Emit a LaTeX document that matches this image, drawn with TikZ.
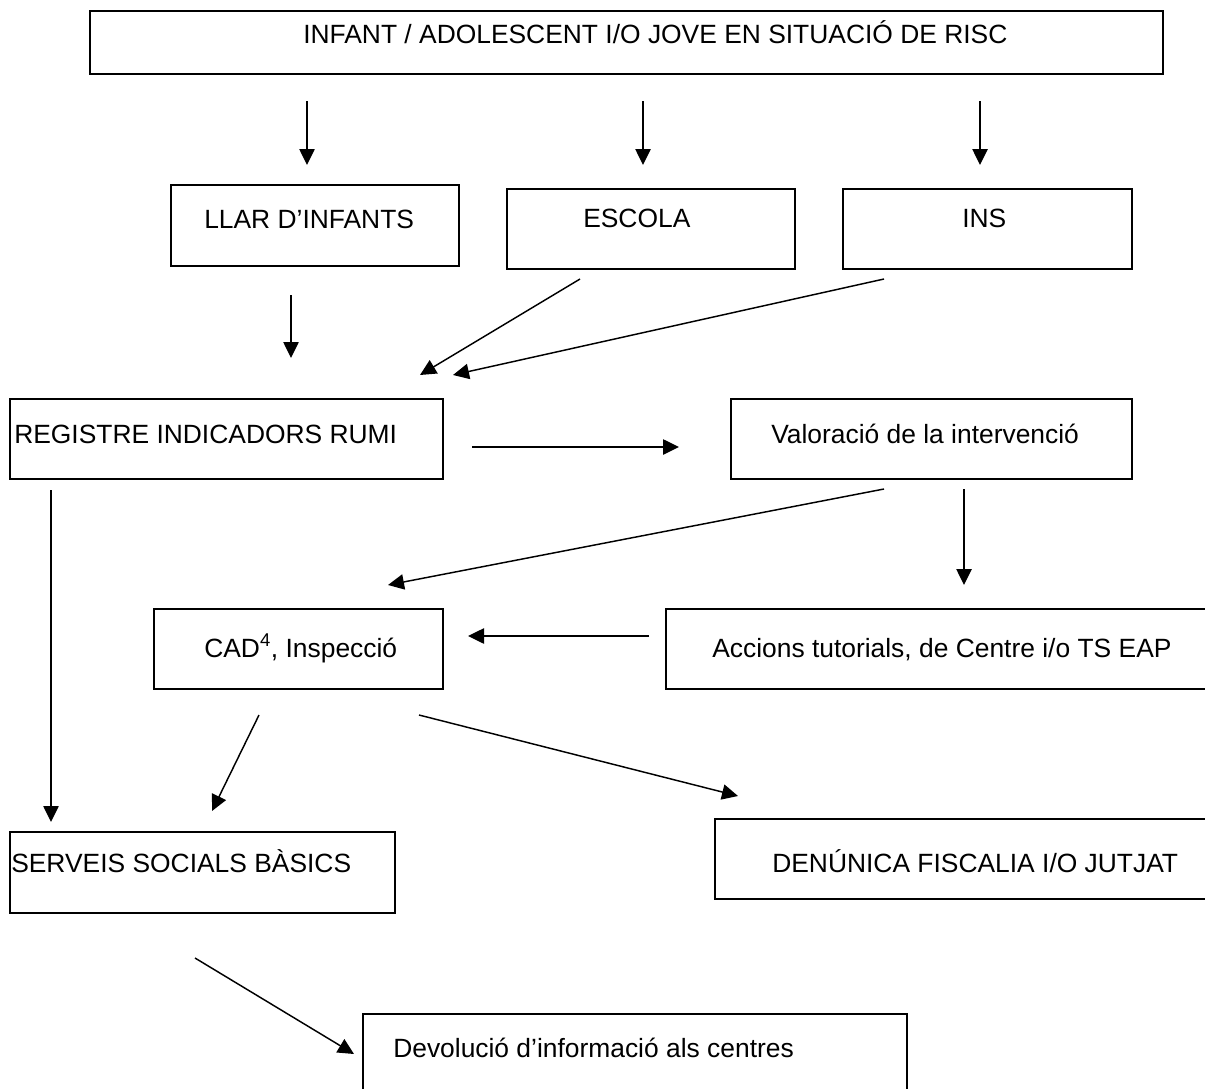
\documentclass[tikz,border=0pt]{standalone}
\usepackage{fontspec}
\setmainfont{Liberation Sans}
\usetikzlibrary{arrows.meta}
\begin{document}
\begin{tikzpicture}[x=0.75pt, y=-0.75pt,
  box/.style={draw, line width=1.5pt, inner sep=0pt, anchor=north west},
  lbl/.style={anchor=base west, inner sep=0pt, font=\fontsize{19.8}{23}\selectfont},
  arr/.style={line width=1.1pt, -{Triangle[length=12pt,width=11.5pt]}}]
\path[use as bounding box, clip] (0,0) rectangle (1205,1088);

% boxes
\node[box, minimum width=1073*0.75pt, minimum height=63*0.75pt] (top) at (89,10) {};
\node[box, minimum width=288*0.75pt, minimum height=81*0.75pt] (llar) at (170,184) {};
\node[box, minimum width=288*0.75pt, minimum height=80*0.75pt] (escola) at (506,188) {};
\node[box, minimum width=289*0.75pt, minimum height=80*0.75pt] (ins) at (842,188) {};
\node[box, minimum width=433*0.75pt, minimum height=80*0.75pt] (rumi) at (9,398) {};
\node[box, minimum width=401*0.75pt, minimum height=80*0.75pt] (valor) at (730,398) {};
\node[box, minimum width=289*0.75pt, minimum height=80*0.75pt] (cad) at (153,608) {};
\node[box, minimum width=560*0.75pt, minimum height=80*0.75pt] (accions) at (665,608) {};
\node[box, minimum width=385*0.75pt, minimum height=81*0.75pt] (serveis) at (9,831) {};
\node[box, minimum width=510*0.75pt, minimum height=80*0.75pt] (denuncia) at (714,818) {};
\node[box, minimum width=544*0.75pt, minimum height=100*0.75pt] (devol) at (362,1013) {};

% labels
\node[lbl] (toptext) at (303,44) {INFANT / ADOLESCENT I/O JOVE EN SITUACIÓ DE RISC};
\node[lbl] (llartext) at (204,228) {LLAR D’INFANTS};
\node[lbl] (escolatext) at (583,227) {ESCOLA};
\node[lbl] (instext) at (962,227) {INS};
\node[lbl] (rumitext) at (14,443) {REGISTRE INDICADORS RUMI};
\node[lbl] (valortext) at (771,443) {Valoració de la intervenció};
\node[lbl] (cadtext) at (204,657) {CAD\textsuperscript{4}, Inspecció};
\node[lbl] (accionstext) at (712,657) {Accions tutorials, de Centre i/o TS EAP};
\node[lbl] (serveistext) at (11,872) {SERVEIS SOCIALS BÀSICS};
\node[lbl] (denunciatext) at (772,872) {DENÚNICA FISCALIA I/O JUTJAT};
\node[lbl] (devoltext) at (393,1057) {Devolució d’informació als centres};

% connector end points
\coordinate (t1) at (307,101);  \coordinate (h1) at (307,165);
\coordinate (t2) at (643,101);  \coordinate (h2) at (643,165);
\coordinate (t3) at (980,101);  \coordinate (h3) at (980,165);
\coordinate (t4) at (291,295);  \coordinate (h4) at (291,358);
\coordinate (t5) at (580,279);  \coordinate (h5) at (420,375);
\coordinate (t6) at (884,279);  \coordinate (h6) at (453,375);
\coordinate (t7) at (472,447);  \coordinate (h7) at (679,447);
\coordinate (t8) at (884,489);  \coordinate (h8) at (388,585);
\coordinate (t9) at (964,489);  \coordinate (h9) at (964,585);
\coordinate (t10) at (649,636); \coordinate (h10) at (468,636);
\coordinate (t11) at (51,490);  \coordinate (h11) at (51,822);
\coordinate (t12) at (259,715); \coordinate (h12) at (212,811);
\coordinate (t13) at (419,715); \coordinate (h13) at (738,796);
\coordinate (t14) at (195,958); \coordinate (h14) at (354,1054);

% connectors
\foreach \i in {1,...,14} \draw[arr] (t\i) -- (h\i);
\end{tikzpicture}
\end{document}
